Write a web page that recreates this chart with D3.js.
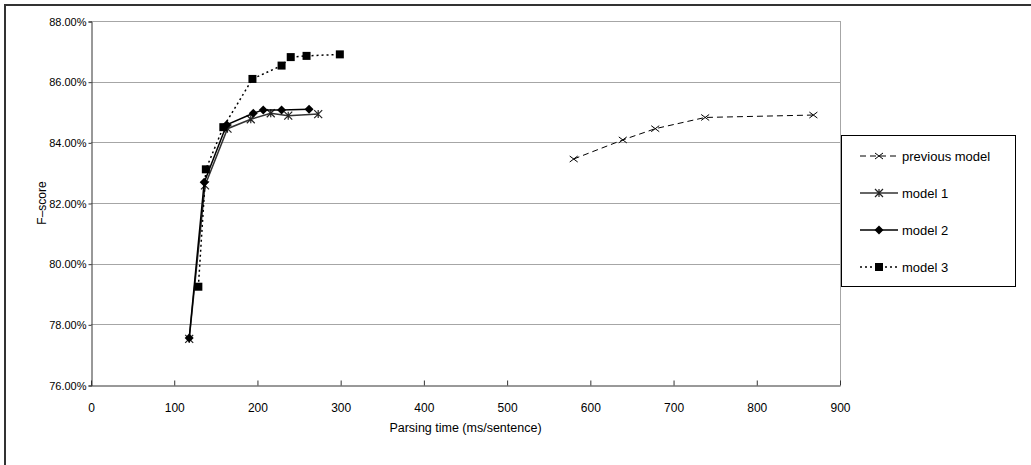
<!DOCTYPE html>
<html>
<head>
<meta charset="utf-8">
<script src="https://cdn.jsdelivr.net/npm/d3@7"></script>
<style>
  body { margin: 0; background: #fff; }
  text { font-family: "Liberation Sans", Arial, sans-serif; fill: #000; }
</style>
</head>
<body>
<div class="chart"></div>
<script>
var w = 1031;
var h = 465;

// series: [parsing time (ms/sentence), F-score (%)]
var previousModel = [[580, 83.45], [639, 84.08], [678, 84.45], [738, 84.82], [868, 84.90]];
var model1 = [[118, 77.52], [137, 82.58], [164, 84.45], [192, 84.76], [216, 84.96], [237, 84.88], [273, 84.93]];
var model2 = [[118, 77.55], [136, 82.68], [163, 84.58], [195, 84.96], [207, 85.07], [229, 85.07], [262, 85.09]];
var model3 = [[129, 79.24], [138, 83.11], [159, 84.50], [194, 86.09], [229, 86.53], [240, 86.81], [259, 86.85], [299, 86.90]];

var seriesNames = ["previous model", "model 1", "model 2", "model 3"];
var xTicks = [0, 100, 200, 300, 400, 500, 600, 700, 800, 900];
var yTicks = [76, 78, 80, 82, 84, 86, 88];

var plotLeft = 91, plotRight = 840, plotTop = 21, plotBottom = 385;

var xScale = d3.scaleLinear().domain([0, 900]).range([plotLeft, plotRight]);
var yScale = d3.scaleLinear().domain([76, 88]).range([plotBottom, plotTop]);

var svg = d3.select(".chart")
            .append("svg")
            .attr("width", w)
            .attr("height", h);

// outer frame
svg.append("rect")
    .attr("x", 5).attr("y", 5)
    .attr("width", w + 10).attr("height", h + 10)
    .attr("fill", "none")
    .attr("stroke", "#333")
    .attr("stroke-width", 2);

// gridlines
svg.selectAll("line.grid")
    .data(yTicks.slice(1))
    .enter()
    .append("line")
    .attr("class", "grid")
    .attr("x1", plotLeft).attr("x2", plotRight)
    .attr("y1", function (d) { return Math.round(yScale(d)) + 0.5; })
    .attr("y2", function (d) { return Math.round(yScale(d)) + 0.5; })
    .attr("stroke", "#a6a6a6");

// right edge of plot area
svg.append("line")
    .attr("x1", plotRight + 0.5).attr("x2", plotRight + 0.5)
    .attr("y1", plotTop).attr("y2", plotBottom)
    .attr("stroke", "#a6a6a6");

// axes
var yAxis = d3.axisLeft(yScale)
    .tickValues(yTicks)
    .tickSize(3)
    .tickPadding(2)
    .tickFormat(function (d) { return d.toFixed(2) + "%"; });

var xAxis = d3.axisBottom(xScale)
    .tickValues(xTicks)
    .tickSizeInner(-5)
    .tickSizeOuter(0)
    .tickPadding(18);

var gy = svg.append("g")
    .attr("transform", "translate(" + (plotLeft + 0.5) + ",0.5)")
    .call(yAxis);
var gx = svg.append("g")
    .attr("transform", "translate(0," + (plotBottom + 0.5) + ")")
    .call(xAxis);

gy.selectAll("text").attr("font-size", "11px").attr("font-family", null);
gx.selectAll("text").attr("font-size", "12px").attr("font-family", null);
svg.selectAll(".domain, .tick line").attr("stroke", "#333");

svg.append("text")
    .attr("x", (plotLeft + plotRight) / 2)
    .attr("y", 432)
    .attr("text-anchor", "middle")
    .attr("font-size", "12.5px")
    .text("Parsing time (ms/sentence)");

svg.append("text")
    .attr("transform", "translate(46," + (plotTop + plotBottom) / 2 + ") rotate(-90)")
    .attr("text-anchor", "middle")
    .attr("font-size", "12px")
    .text("F\u2013score");

// marker shapes
function drawMarker(g, kind, x, y) {
    if (kind === "cross") {
        g.append("path")
            .attr("d", "M" + (x - 4) + "," + (y - 3) + "L" + (x + 4) + "," + (y + 3) +
                       "M" + (x - 4) + "," + (y + 3) + "L" + (x + 4) + "," + (y - 3))
            .attr("stroke", "#000").attr("stroke-width", 1).attr("fill", "none");
    } else if (kind === "star") {
        g.append("path")
            .attr("d", "M" + (x - 4) + "," + (y - 4) + "L" + (x + 4) + "," + (y + 4) +
                       "M" + (x - 4) + "," + (y + 4) + "L" + (x + 4) + "," + (y - 4) +
                       "M" + x + "," + (y - 4) + "L" + x + "," + (y + 4))
            .attr("stroke", "#222").attr("stroke-width", 1.2).attr("fill", "none");
    } else if (kind === "diamond") {
        g.append("path")
            .attr("d", "M" + x + "," + (y - 4.5) + "L" + (x + 4.5) + "," + y +
                       "L" + x + "," + (y + 4.5) + "L" + (x - 4.5) + "," + y + "Z")
            .attr("fill", "#000");
    } else {
        g.append("rect")
            .attr("x", x - 4).attr("y", y - 4)
            .attr("width", 8).attr("height", 8)
            .attr("fill", "#000");
    }
}

var styles = [
    { data: previousModel, dash: "6,4", color: "#000", width: 1, marker: "cross" },
    { data: model1, dash: null, color: "#333", width: 1.5, marker: "star" },
    { data: model2, dash: null, color: "#000", width: 1.5, marker: "diamond" },
    { data: model3, dash: "2,3", color: "#000", width: 1.5, marker: "square" }
];

var line = d3.line()
    .x(function (d) { return xScale(d[0]); })
    .y(function (d) { return yScale(d[1]); });

styles.forEach(function (s) {
    var g = svg.append("g");
    g.append("path")
        .attr("d", line(s.data))
        .attr("fill", "none")
        .attr("stroke", s.color)
        .attr("stroke-width", s.width)
        .attr("stroke-dasharray", s.dash);
    s.data.forEach(function (d) {
        drawMarker(g, s.marker, xScale(d[0]), yScale(d[1]));
    });
});

// legend
var lg = svg.append("g");
lg.append("rect")
    .attr("x", 841.5).attr("y", 135.5)
    .attr("width", 174).attr("height", 151)
    .attr("fill", "#fff")
    .attr("stroke", "#000");

var legendY = [156, 193, 230, 267];
styles.forEach(function (s, i) {
    var y = legendY[i];
    lg.append("line")
        .attr("x1", 860).attr("x2", 898)
        .attr("y1", y).attr("y2", y)
        .attr("stroke", s.color)
        .attr("stroke-width", s.width)
        .attr("stroke-dasharray", s.dash);
    drawMarker(lg, s.marker, 879, y);
    lg.append("text")
        .attr("x", 902)
        .attr("y", y + 5)
        .attr("font-size", "13px")
        .text(seriesNames[i]);
});
</script>
</body>
</html>
